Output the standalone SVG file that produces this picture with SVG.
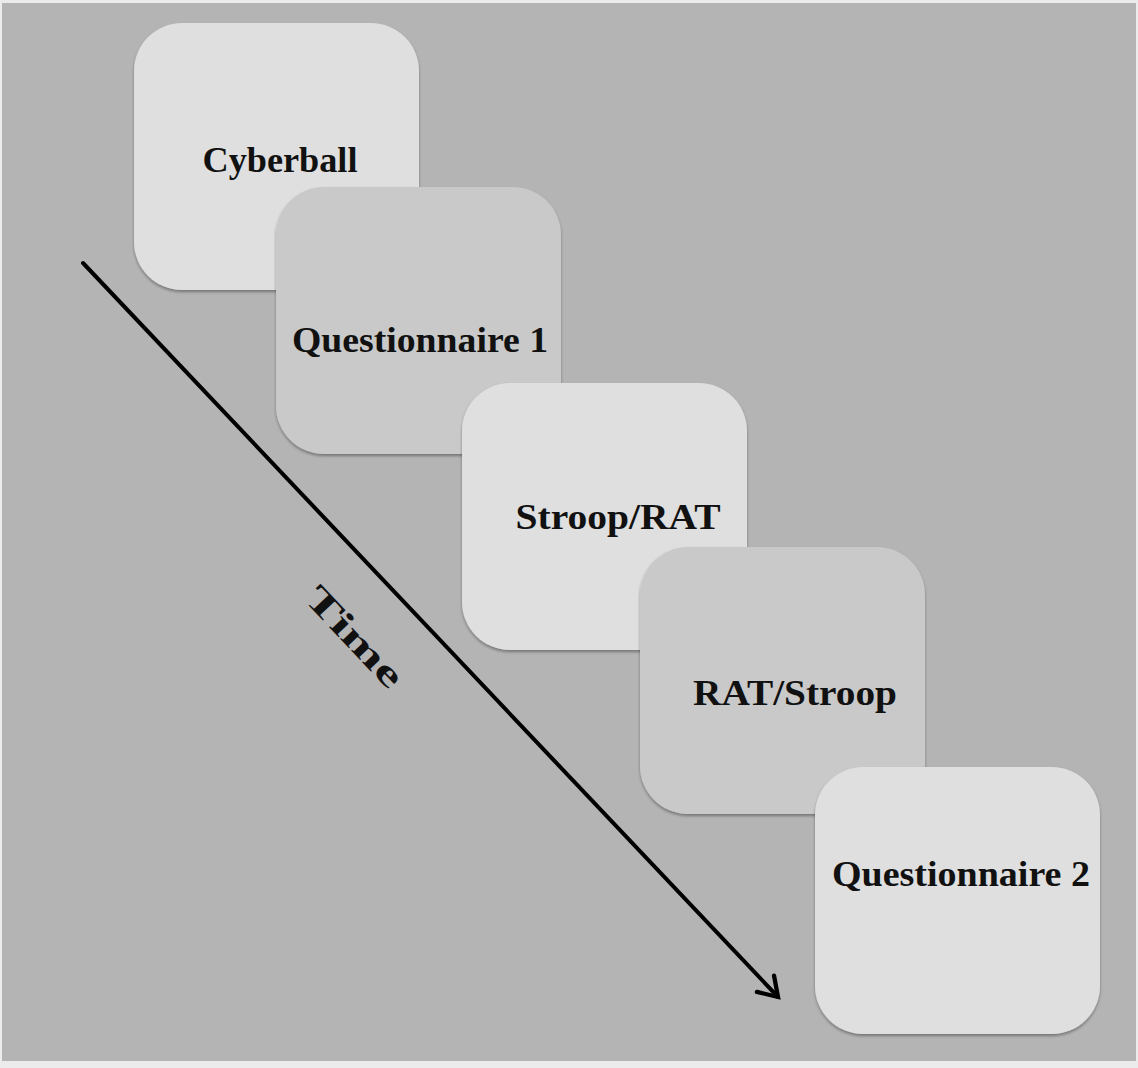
<svg xmlns="http://www.w3.org/2000/svg" width="1138" height="1068" viewBox="0 0 1138 1068">
  <defs>
    <style>
      .card-light { fill: #dfdfdf; }
      .card-dark { fill: #c9c9c9; }
      .card { filter: url(#soft-shadow); }
      .label { font-family: "Liberation Serif", "DejaVu Serif", serif; font-weight: bold; font-size: 36px; fill: #111111; text-anchor: middle; }
      .timeline { stroke: #000000; stroke-width: 4; fill: none; stroke-linecap: round; }
    </style>
    <filter id="soft-shadow" x="-10%" y="-10%" width="120%" height="125%">
      <feDropShadow dx="0" dy="2" stdDeviation="1.5" flood-color="#000000" flood-opacity="0.35"/>
    </filter>
    <marker id="chevron" markerUnits="userSpaceOnUse" markerWidth="30" markerHeight="30" viewBox="-24 -14 28 28" refX="0" refY="0" orient="auto">
      <polyline points="-17,-11 0,0 -17,11" fill="none" stroke="#000000" stroke-width="4" stroke-linecap="round" stroke-linejoin="miter"/>
    </marker>
  </defs>

  <!-- frame and backdrop -->
  <rect x="0" y="0" width="1138" height="1068" fill="#ececec"/>
  <rect x="2" y="3" width="1134" height="1058" fill="#b4b4b4"/>

  <!-- timeline arrow -->
  <g id="connectors">
    <path class="timeline" d="M83,263 L778,997" marker-end="url(#chevron)"/>
  </g>

  <g id="time-label">
    <text class="label" font-size="42" transform="translate(346,645) rotate(46.6)" textLength="126" lengthAdjust="spacingAndGlyphs">Time</text>
  </g>

  <!-- task cards, drawn back to front -->
  <g id="cyberball">
    <rect class="card card-light" x="134" y="23" width="285" height="267" rx="48"/>
    <text class="label" x="280" y="172" textLength="155" lengthAdjust="spacingAndGlyphs">Cyberball</text>
  </g>

  <g id="questionnaire-1">
    <rect class="card card-dark" x="276" y="187" width="285" height="267" rx="48"/>
    <text class="label" x="420" y="352" textLength="256" lengthAdjust="spacingAndGlyphs">Questionnaire 1</text>
  </g>

  <g id="stroop-rat">
    <rect class="card card-light" x="462" y="383" width="285" height="267" rx="48"/>
    <text class="label" x="618" y="529" textLength="205" lengthAdjust="spacingAndGlyphs">Stroop/RAT</text>
  </g>

  <g id="rat-stroop">
    <rect class="card card-dark" x="640" y="547" width="285" height="267" rx="48"/>
    <text class="label" x="795" y="705" textLength="204" lengthAdjust="spacingAndGlyphs">RAT/Stroop</text>
  </g>

  <g id="questionnaire-2">
    <rect class="card card-light" x="815" y="767" width="285" height="267" rx="48"/>
    <text class="label" x="961" y="886" textLength="258" lengthAdjust="spacingAndGlyphs">Questionnaire 2</text>
  </g>
</svg>
